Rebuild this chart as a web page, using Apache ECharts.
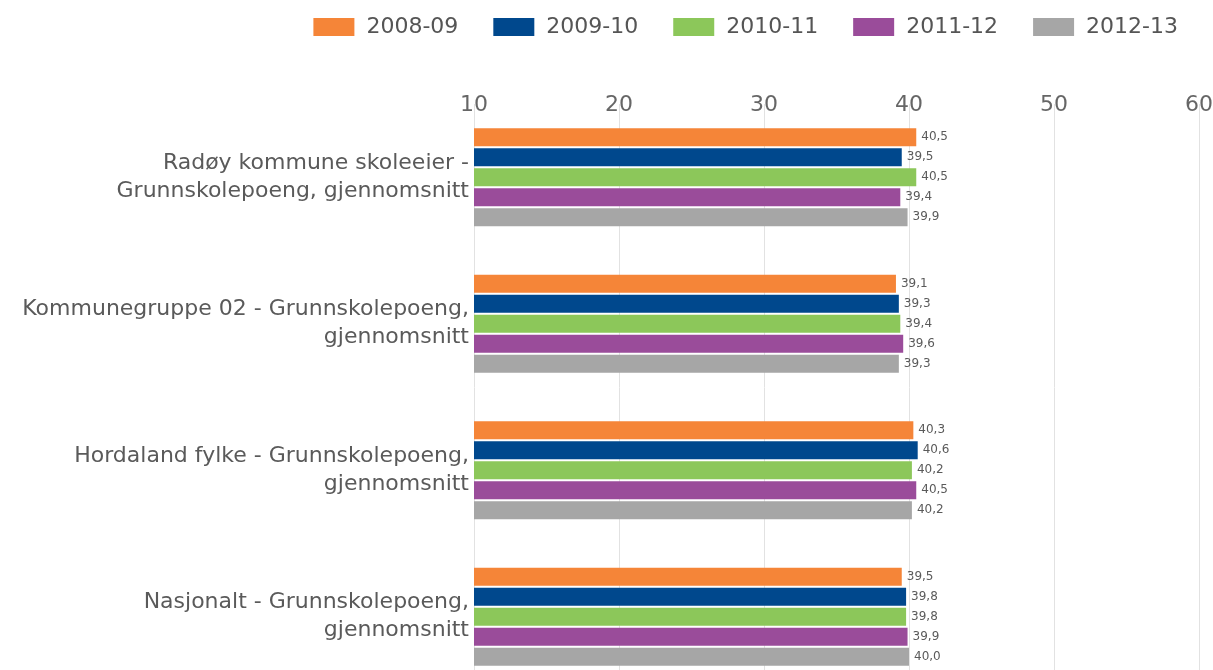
<!DOCTYPE html>
<html>
<head>
<meta charset="utf-8">
<script src="https://cdn.jsdelivr.net/npm/echarts@6/dist/echarts.min.js"></script>
<style>
  html, body { margin: 0; padding: 0; background: #fff; }
  #chart { width: 1213px; height: 670px; }
</style>
</head>
<body>
<div id="chart"></div>
<script>
// kategorier (grupper)
var categories = [
  'Radøy kommune skoleeier -\nGrunnskolepoeng, gjennomsnitt',
  'Kommunegruppe 02 - Grunnskolepoeng,\ngjennomsnitt',
  'Hordaland fylke - Grunnskolepoeng,\ngjennomsnitt',
  'Nasjonalt - Grunnskolepoeng,\ngjennomsnitt'
];
var years = ['2008-09', '2009-10', '2010-11', '2011-12', '2012-13'];
var v2008 = [40.5, 39.1, 40.3, 39.5];
var v2009 = [39.5, 39.3, 40.6, 39.8];
var v2010 = [40.5, 39.4, 40.2, 39.8];
var v2011 = [39.4, 39.6, 40.5, 39.9];
var v2012 = [39.9, 39.3, 40.2, 40.0];
var colors = ['#F58538', '#00488D', '#8CC75A', '#9A4C9A', '#A6A6A6'];

var font = 'DejaVu Sans';
var values = [v2008, v2009, v2010, v2011, v2012];

var series = years.map(function (y, i) {
  return {
    name: y,
    type: 'bar',
    data: values[i],
    barWidth: 18,
    barGap: '11%',
    itemStyle: { color: colors[i] },
    label: {
      show: true,
      position: 'right',
      distance: 5,
      color: '#5a5a5a',
      fontFamily: font,
      fontSize: 12,
      formatter: function (p) { return p.value.toFixed(1).replace('.', ','); }
    }
  };
});

var myChart = echarts.init(document.getElementById('chart'));
myChart.setOption({
  animation: false,
  color: colors,
  legend: {
    data: years,
    right: 30,
    top: 11,
    itemWidth: 41,
    itemHeight: 18,
    itemGap: 35,
    icon: 'rect',
    textStyle: { color: '#555', fontFamily: font, fontSize: 22, padding: [0, 0, 0, 7] }
  },
  grid: { left: 474, right: 14, top: 104, height: 586, outerBoundsMode: 'none' },
  xAxis: {
    type: 'value',
    position: 'top',
    min: 10,
    max: 60,
    interval: 10,
    axisLine: { show: false },
    axisTick: { show: false },
    axisLabel: { color: '#666', fontFamily: font, fontSize: 22, margin: -12 },
    splitLine: { lineStyle: { color: '#e2e2e2', width: 1 } }
  },
  yAxis: {
    type: 'category',
    inverse: true,
    data: categories,
    axisLine: { show: false },
    axisTick: { show: false },
    axisLabel: {
      color: '#5a5a5a',
      fontFamily: font,
      fontSize: 22,
      lineHeight: 28,
      margin: 5,
      align: 'right'
    }
  },
  series: series
});
</script>
</body>
</html>
